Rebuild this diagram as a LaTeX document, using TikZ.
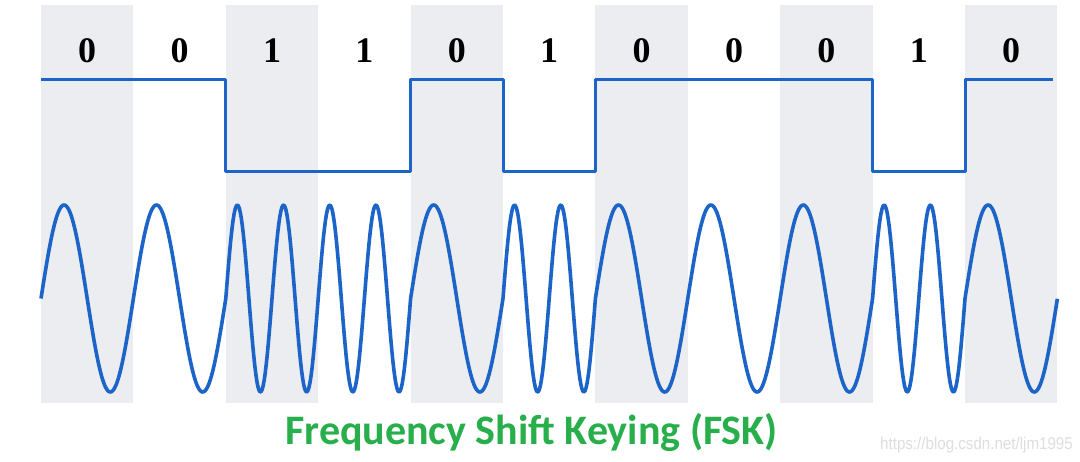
\documentclass[tikz,border=0pt]{standalone}
\usepackage{fontspec}
\newfontfamily\digitfont{Liberation Serif}
\newfontfamily\titlefont{Carlito}
\newfontfamily\markfont{Liberation Sans}
\definecolor{sigblue}{RGB}{28,100,200}
\definecolor{colgrey}{RGB}{235,237,240}
\definecolor{titlegreen}{RGB}{40,175,75}
\definecolor{markgrey}{RGB}{222,222,222}
\tikzset{
  bitlabel/.style={anchor=base, inner sep=0pt, font=\digitfont\bfseries\fontsize{36}{36}\selectfont},
  signal/.style={draw=sigblue, line width=3pt, line join=round},
  greycol/.style={fill=colgrey, draw=none},
}
\begin{document}
\begin{tikzpicture}[x=1pt,y=-1pt]
\def\xo{41}
\def\bw{92.4}
\useasboundingbox[fill=white] (0,0) rectangle (1080,461);
% grey columns (even bits)
\foreach \k in {0,2,4,6,8,10}{
  \fill[greycol] ({\xo+\k*\bw},5) rectangle ({\xo+(\k+1)*\bw},403);
}
% bit labels
\foreach \b [count=\k from 0] in {0,0,1,1,0,1,0,0,0,1,0}{
  \node[bitlabel] (bit\k) at ({\xo+(\k+0.5)*\bw},62) {\b};
}
% square wave (high = 0, low = 1)
\draw[signal] (\xo,79) -- ({\xo+2*\bw},79) -- ({\xo+2*\bw},171) -- ({\xo+4*\bw},171)
  -- ({\xo+4*\bw},79) -- ({\xo+5*\bw},79) -- ({\xo+5*\bw},171) -- ({\xo+6*\bw},171)
  -- ({\xo+6*\bw},79) -- ({\xo+9*\bw},79) -- ({\xo+9*\bw},171) -- ({\xo+10*\bw},171)
  -- ({\xo+10*\bw},79) -- (1053,79);
% FSK sine wave
\draw[signal, line width=3.6pt] (\xo,298.5)
  \foreach \f [count=\i from 0] in {1,1,2,2,1,2,1,1,1,2,1}{
    -- plot[domain=0:1, samples=90] ({\xo+(\i+\x)*\bw},{298.5-93.5*sin(360*\f*\x)})
  };
% title
\node[anchor=base, inner sep=0pt, text=titlegreen, font=\titlefont\bfseries\fontsize{42}{42}\selectfont] (title) at (531.5,444) {Frequency Shift Keying (FSK)};
% watermark
\node[anchor=base west, inner sep=0pt, text=markgrey, xscale=0.89, font=\markfont\fontsize{17}{17}\selectfont] (mark) at (880,449) {https://blog.csdn.net/ljm1995};
\end{tikzpicture}
\end{document}
